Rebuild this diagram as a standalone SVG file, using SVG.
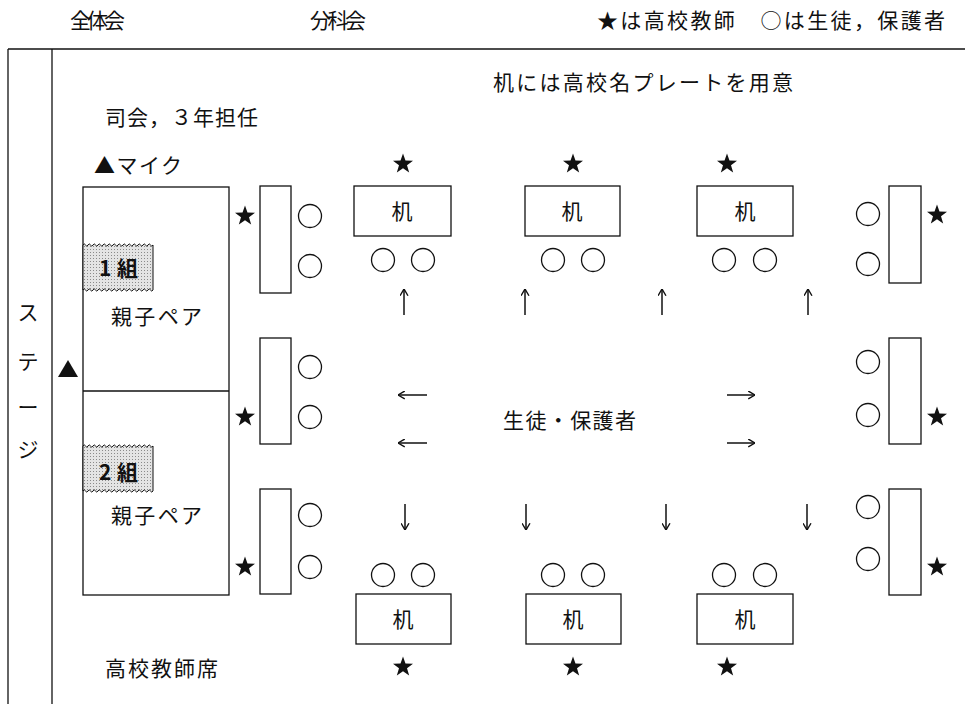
<svg xmlns="http://www.w3.org/2000/svg" width="965" height="704" viewBox="0 0 965 704">
<style>
text{font-family:"Noto Sans CJK JP","Noto Sans",sans-serif;fill:#111;font-size:21px}
.ln{stroke:#111;stroke-width:1.3;fill:none}
.desk{fill:#fff;stroke:#111;stroke-width:1.3}
.seat{fill:#fff;stroke:#111;stroke-width:1.3}
.star{fill:#111}
.arr{stroke:#111;stroke-width:1.5;fill:none}
.lbl{font-weight:bold;font-size:21px}
</style>
<defs>
<polygon id="star" points="0,-10.5 2.47,-3.4 10,-3.25 4,1.3 6.17,8.5 0,4.2 -6.17,8.5 -4,1.3 -10,-3.25 -2.47,-3.4"/>
<pattern id="dots" width="3" height="3" patternUnits="userSpaceOnUse">
<rect width="3" height="3" fill="#e4e4e4"/>
<rect width="1" height="1" fill="#8a8a8a"/>
</pattern>
<marker id="ah" viewBox="0 0 10 10" refX="9.5" refY="5" markerWidth="9" markerHeight="9" markerUnits="userSpaceOnUse" orient="auto">
<path d="M2,0.6 L9.5,5 L2,9.4" fill="none" stroke="#111" stroke-width="1.6"/>
</marker>
</defs>
<rect width="965" height="704" fill="#fff"/>

<g id="header">
<text x="70" y="28" font-size="20" textLength="55">全体会</text>
<text x="310" y="28" font-size="20" textLength="56">分科会</text>
<text x="597" y="28" font-size="20" textLength="348">★は高校教師　○は生徒，保護者</text>
</g>

<g id="frame">
<line class="ln" x1="8" y1="49" x2="965" y2="49"/>
<line class="ln" x1="8" y1="49" x2="8" y2="704"/>
<line class="ln" x1="52" y1="49" x2="52" y2="704"/>
</g>

<g id="stage">
<text x="28" y="320" text-anchor="middle" font-size="19">ス</text>
<text x="28" y="369" text-anchor="middle" font-size="19">テ</text>
<text x="28" y="415" text-anchor="middle" font-size="19">ー</text>
<text x="28" y="457" text-anchor="middle" font-size="19">ジ</text>
<polygon points="58,377 78,377 68,360" fill="#111"/>
</g>

<g id="notes">
<text x="493" y="90" textLength="300">机には高校名プレートを用意</text>
<text x="105" y="125" textLength="153">司会，３年担任</text>
<text x="94" y="173" textLength="88">▲マイク</text>
<text x="105" y="676" textLength="113">高校教師席</text>
</g>

<g id="pair-area">
<rect class="desk" x="83" y="187" width="146" height="408"/>
<line class="ln" x1="83" y1="391" x2="229" y2="391"/>
</g>

<g id="group1">
<path d="M83,245 q1.25,-2.2 2.5,0 t2.5,0 t2.5,0 t2.5,0 t2.5,0 t2.5,0 t2.5,0 t2.5,0 t2.5,0 t2.5,0 t2.5,0 t2.5,0 t2.5,0 t2.5,0 t2.5,0 t2.5,0 t2.5,0 t2.5,0 t2.5,0 t2.5,0 t2.5,0 t2.5,0 t2.5,0 t2.5,0 t2.5,0 t2.5,0 t2.5,0 t2.5,0 L153,290 q-1.25,2.2 -2.5,0 t-2.5,0 t-2.5,0 t-2.5,0 t-2.5,0 t-2.5,0 t-2.5,0 t-2.5,0 t-2.5,0 t-2.5,0 t-2.5,0 t-2.5,0 t-2.5,0 t-2.5,0 t-2.5,0 t-2.5,0 t-2.5,0 t-2.5,0 t-2.5,0 t-2.5,0 t-2.5,0 t-2.5,0 t-2.5,0 t-2.5,0 t-2.5,0 t-2.5,0 t-2.5,0 t-2.5,0 Z" fill="url(#dots)" stroke="#111" stroke-width="1"/>
<text class="lbl" x="99" y="276" textLength="39">1組</text>
<text x="111" y="324" textLength="91">親子ペア</text>
</g>

<g id="group2">
<path d="M83,446 q1.25,-2.2 2.5,0 t2.5,0 t2.5,0 t2.5,0 t2.5,0 t2.5,0 t2.5,0 t2.5,0 t2.5,0 t2.5,0 t2.5,0 t2.5,0 t2.5,0 t2.5,0 t2.5,0 t2.5,0 t2.5,0 t2.5,0 t2.5,0 t2.5,0 t2.5,0 t2.5,0 t2.5,0 t2.5,0 t2.5,0 t2.5,0 t2.5,0 t2.5,0 L153,491 q-1.25,2.2 -2.5,0 t-2.5,0 t-2.5,0 t-2.5,0 t-2.5,0 t-2.5,0 t-2.5,0 t-2.5,0 t-2.5,0 t-2.5,0 t-2.5,0 t-2.5,0 t-2.5,0 t-2.5,0 t-2.5,0 t-2.5,0 t-2.5,0 t-2.5,0 t-2.5,0 t-2.5,0 t-2.5,0 t-2.5,0 t-2.5,0 t-2.5,0 t-2.5,0 t-2.5,0 t-2.5,0 t-2.5,0 Z" fill="url(#dots)" stroke="#111" stroke-width="1"/>
<text class="lbl" x="99" y="480" textLength="39">2組</text>
<text x="111" y="523" textLength="91">親子ペア</text>
</g>

<g id="left-desk-1">
<use href="#star" class="star" x="245" y="216"/>
<rect class="desk" x="260" y="186" width="31" height="107"/>
<circle class="seat" cx="310" cy="216" r="11.5"/>
<circle class="seat" cx="310" cy="266" r="11.5"/>
</g>
<g id="left-desk-2">
<use href="#star" class="star" x="245" y="417"/>
<rect class="desk" x="260" y="338" width="31" height="106"/>
<circle class="seat" cx="310" cy="367" r="11.5"/>
<circle class="seat" cx="310" cy="417" r="11.5"/>
</g>
<g id="left-desk-3">
<use href="#star" class="star" x="245" y="567"/>
<rect class="desk" x="260" y="489" width="31" height="105"/>
<circle class="seat" cx="310" cy="515" r="11.5"/>
<circle class="seat" cx="310" cy="567" r="11.5"/>
</g>

<g id="top-desk-1">
<use href="#star" class="star" x="403" y="164"/>
<rect class="desk" x="354" y="186" width="97" height="50"/>
<text x="402" y="219" text-anchor="middle">机</text>
<circle class="seat" cx="383" cy="260" r="11.5"/>
<circle class="seat" cx="423" cy="260" r="11.5"/>
</g>
<g id="top-desk-2">
<use href="#star" class="star" x="573" y="164"/>
<rect class="desk" x="525" y="186" width="95" height="50"/>
<text x="572" y="219" text-anchor="middle">机</text>
<circle class="seat" cx="553" cy="260" r="11.5"/>
<circle class="seat" cx="593" cy="260" r="11.5"/>
</g>
<g id="top-desk-3">
<use href="#star" class="star" x="727" y="164"/>
<rect class="desk" x="697" y="186" width="96" height="50"/>
<text x="745" y="219" text-anchor="middle">机</text>
<circle class="seat" cx="724" cy="260" r="11.5"/>
<circle class="seat" cx="765" cy="260" r="11.5"/>
</g>

<g id="bottom-desk-1">
<circle class="seat" cx="383" cy="575" r="11.5"/>
<circle class="seat" cx="423" cy="575" r="11.5"/>
<rect class="desk" x="356" y="594" width="95" height="50"/>
<text x="403" y="627" text-anchor="middle">机</text>
<use href="#star" class="star" x="403" y="667"/>
</g>
<g id="bottom-desk-2">
<circle class="seat" cx="553" cy="575" r="11.5"/>
<circle class="seat" cx="593" cy="575" r="11.5"/>
<rect class="desk" x="526" y="594" width="95" height="50"/>
<text x="573" y="627" text-anchor="middle">机</text>
<use href="#star" class="star" x="573" y="667"/>
</g>
<g id="bottom-desk-3">
<circle class="seat" cx="724" cy="575" r="11.5"/>
<circle class="seat" cx="765" cy="575" r="11.5"/>
<rect class="desk" x="697" y="594" width="96" height="50"/>
<text x="745" y="627" text-anchor="middle">机</text>
<use href="#star" class="star" x="727" y="667"/>
</g>

<g id="right-desk-1">
<circle class="seat" cx="868" cy="214" r="11.5"/>
<circle class="seat" cx="868" cy="264" r="11.5"/>
<rect class="desk" x="889" y="186" width="32" height="97"/>
<use href="#star" class="star" x="937" y="215"/>
</g>
<g id="right-desk-2">
<circle class="seat" cx="868" cy="362" r="11.5"/>
<circle class="seat" cx="868" cy="415" r="11.5"/>
<rect class="desk" x="889" y="338" width="32" height="106"/>
<use href="#star" class="star" x="937" y="417"/>
</g>
<g id="right-desk-3">
<circle class="seat" cx="868" cy="507" r="11.5"/>
<circle class="seat" cx="868" cy="559" r="11.5"/>
<rect class="desk" x="889" y="489" width="32" height="106"/>
<use href="#star" class="star" x="937" y="567"/>
</g>

<g id="students">
<text x="503" y="428" textLength="133">生徒・保護者</text>
</g>

<g id="connectors">
<line class="arr" x1="404" y1="315" x2="404" y2="289" marker-end="url(#ah)"/>
<line class="arr" x1="525" y1="315" x2="525" y2="289" marker-end="url(#ah)"/>
<line class="arr" x1="662" y1="315" x2="662" y2="289" marker-end="url(#ah)"/>
<line class="arr" x1="808" y1="315" x2="808" y2="289" marker-end="url(#ah)"/>
<line class="arr" x1="405" y1="504" x2="405" y2="530" marker-end="url(#ah)"/>
<line class="arr" x1="526" y1="504" x2="526" y2="530" marker-end="url(#ah)"/>
<line class="arr" x1="666" y1="504" x2="666" y2="530" marker-end="url(#ah)"/>
<line class="arr" x1="807" y1="504" x2="807" y2="530" marker-end="url(#ah)"/>
<line class="arr" x1="427" y1="395" x2="398" y2="395" marker-end="url(#ah)"/>
<line class="arr" x1="427" y1="443" x2="398" y2="443" marker-end="url(#ah)"/>
<line class="arr" x1="727" y1="395" x2="755" y2="395" marker-end="url(#ah)"/>
<line class="arr" x1="727" y1="443" x2="755" y2="443" marker-end="url(#ah)"/>
</g>
</svg>
